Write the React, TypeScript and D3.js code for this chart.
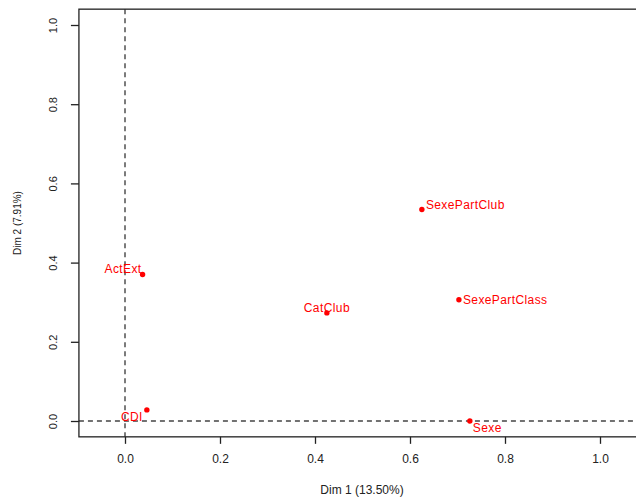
import React, { useEffect, useRef } from "react";
import * as d3 from "d3";

// variable coordinates on the first two dimensions
const variables = ["SexePartClub", "SexePartClass", "CatClub", "ActExt", "CDI", "Sexe"];
const dim1 = [0.625, 0.703, 0.425, 0.037, 0.046, 0.726];
const dim2 = [0.534, 0.306, 0.273, 0.370, 0.028, 0.0];
// where each label sits relative to its point
const labelSide = ["right-up", "right", "above", "left-up", "left-down", "below-right"];

const xTicks = [0, 0.2, 0.4, 0.6, 0.8, 1.0];
const yTicks = [0, 0.2, 0.4, 0.6, 0.8, 1.0];
const xTitle = "Dim 1 (13.50%)";
const yTitle = "Dim 2 (7.91%)";

const App: React.FC = () => {
  const ref = useRef<SVGSVGElement>(null);

  useEffect(() => {
    const svg = d3.select(ref.current);
    svg.selectAll("*").remove();

    const x = d3.scaleLinear().domain([0, 1]).range([125, 600]);
    const y = d3.scaleLinear().domain([0, 1]).range([421, 25]);

    const font = "'Liberation Sans', Arial, sans-serif";
    const left = x(-0.097);
    const top = y(1.04);
    const bottom = y(-0.04);
    const right = x(1.095);

    // reference lines
    svg.append("line")
      .attr("x1", x(0)).attr("x2", x(0))
      .attr("y1", top).attr("y2", bottom)
      .attr("stroke", "#444").attr("stroke-width", 1.4)
      .attr("stroke-dasharray", "5,4");
    svg.append("line")
      .attr("x1", left).attr("x2", right)
      .attr("y1", y(0)).attr("y2", y(0))
      .attr("stroke", "#444").attr("stroke-width", 1.4)
      .attr("stroke-dasharray", "5,4");

    // box
    svg.append("rect")
      .attr("x", left).attr("y", top)
      .attr("width", right - left).attr("height", bottom - top)
      .attr("fill", "none").attr("stroke", "#222").attr("stroke-width", 1.3);

    // x axis
    const gx = svg.append("g").attr("transform", `translate(0,${bottom})`);
    gx.call(d3.axisBottom(x).tickValues(xTicks).tickSize(7).tickPadding(11).tickFormat(d3.format(".1f")));
    gx.select(".domain").remove();
    gx.selectAll("line").attr("stroke", "#222").attr("stroke-width", 1.3);
    gx.selectAll("text")
      .attr("font-family", font).attr("font-size", 12).attr("fill", "#222");

    // y axis
    const gy = svg.append("g").attr("transform", `translate(${left},0)`);
    gy.call(d3.axisLeft(y).tickValues(yTicks).tickSize(8).tickFormat(d3.format(".1f")));
    gy.select(".domain").remove();
    gy.selectAll("line").attr("stroke", "#222").attr("stroke-width", 1.3);
    gy.selectAll(".tick text")
      .attr("font-family", font).attr("font-size", 11).attr("fill", "#222")
      .attr("x", 0).attr("y", 0).attr("dy", "0.35em")
      .attr("text-anchor", "middle")
      .attr("transform", "translate(-26,0) rotate(-90)");

    // titles
    svg.append("text")
      .attr("x", (left + right) / 2).attr("y", 494)
      .attr("text-anchor", "middle")
      .attr("font-family", font).attr("font-size", 12).attr("fill", "#222")
      .text(xTitle);
    svg.append("text")
      .attr("transform", `translate(21,${(top + bottom) / 2}) rotate(-90)`)
      .attr("text-anchor", "middle")
      .attr("font-family", font).attr("font-size", 10).attr("fill", "#222")
      .text(yTitle);

    // points
    const data = variables.map((name, i) => ({ name, x: dim1[i], y: dim2[i], side: labelSide[i] }));
    svg.append("g").selectAll("circle")
      .data(data)
      .enter()
      .append("circle")
      .attr("cx", (d) => x(d.x))
      .attr("cy", (d) => y(d.y))
      .attr("r", 2.7)
      .attr("fill", "#ff0000");

    const placement: Record<string, [number, number, string]> = {
      "right-up": [4, -5, "start"],
      right: [4, 0, "start"],
      above: [0, -5, "middle"],
      "left-up": [-1, -6, "end"],
      "left-down": [-4, 7, "end"],
      "below-right": [3, 7, "start"],
    };

    svg.append("g").selectAll("text")
      .data(data)
      .enter()
      .append("text")
      .attr("x", (d) => x(d.x) + placement[d.side][0])
      .attr("y", (d) => y(d.y) + placement[d.side][1])
      .attr("dy", "0.35em")
      .attr("text-anchor", (d) => placement[d.side][2])
      .attr("font-family", font).attr("font-size", 12)
      .attr("letter-spacing", 0.4)
      .attr("fill", "#ff0000")
      .text((d) => d.name);
  }, []);

  return (
    <svg
      ref={ref}
      width={636}
      height={502}
      style={{ position: "absolute", left: 0, top: 0, background: "#fff" }}
    />
  );
};

export default App;
